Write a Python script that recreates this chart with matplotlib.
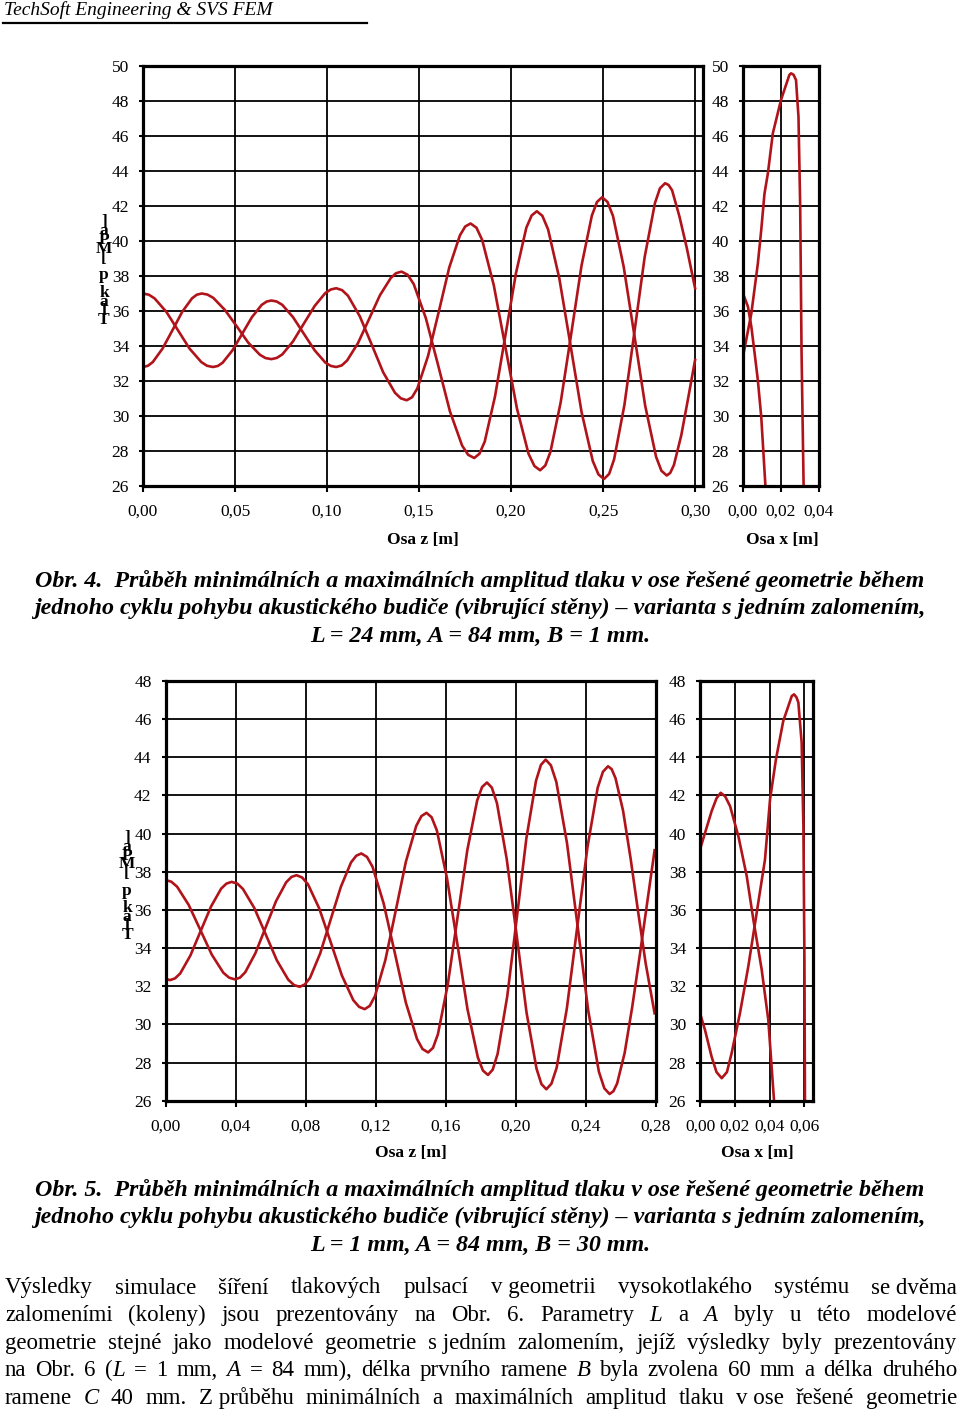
import matplotlib.pyplot as plt

plt.rcParams['font.family'] = ['Liberation Serif', 'DejaVu Serif']

RED = '#b0141a'

# ---- Obr. 4 : osa z ----
o4_z_a = [0, 0.0032, 0.0063, 0.0127, 0.019, 0.0253, 0.0317, 0.0348, 0.038, 0.0407, 0.0433, 0.0486, 0.0539,
          0.0592, 0.0645, 0.0672, 0.0698, 0.0727, 0.0757, 0.0815, 0.0874, 0.0933, 0.0991, 0.1021, 0.105,
          0.108, 0.1109, 0.1168, 0.1228, 0.1287, 0.1346, 0.1375, 0.1405, 0.1438, 0.1471, 0.1537, 0.1603,
          0.1668, 0.1734, 0.1767, 0.180, 0.1828, 0.1857, 0.1913, 0.197, 0.2027, 0.2083, 0.2112, 0.214,
          0.217, 0.2201, 0.2262, 0.2323, 0.2383, 0.2444, 0.2475, 0.2505, 0.2533, 0.256, 0.2616, 0.2671,
          0.2726, 0.2782, 0.2809, 0.2837, 0.2856, 0.2875, 0.2915, 0.2955, 0.300]
o4_p_a = [37.0, 36.93, 36.72, 35.95, 34.9, 33.85, 33.08, 32.87, 32.8, 32.86, 33.05, 33.75, 34.7,
          35.65, 36.35, 36.54, 36.6, 36.54, 36.35, 35.65, 34.7, 33.75, 33.05, 32.86, 32.8,
          32.89, 33.17, 34.16, 35.53, 36.89, 37.88, 38.16, 38.25, 38.07, 37.54, 35.59, 32.93,
          30.26, 28.31, 27.78, 27.6, 27.84, 28.54, 31.13, 34.65, 38.18, 40.76, 41.46, 41.7,
          41.44, 40.67, 37.88, 34.05, 30.23, 27.43, 26.66, 26.4, 26.69, 27.53, 30.63, 34.85,
          39.08, 42.17, 43.01, 43.3, 43.2, 42.9, 41.4, 39.6, 37.3]
o4_z_b = [0, 0.0027, 0.0053, 0.0106, 0.016, 0.0213, 0.0266, 0.0292, 0.0319, 0.035, 0.0382, 0.0445, 0.0509,
          0.0572, 0.0635, 0.0666, 0.0698, 0.0727, 0.0757, 0.0815, 0.0874, 0.0933, 0.0991, 0.1021, 0.105,
          0.1082, 0.1114, 0.1178, 0.1242, 0.1305, 0.1369, 0.1401, 0.1433, 0.1462, 0.1491, 0.1549, 0.1607,
          0.1664, 0.1722, 0.1751, 0.178, 0.1812, 0.1843, 0.1906, 0.1969, 0.2032, 0.2095, 0.2127, 0.2158,
          0.2186, 0.2214, 0.227, 0.2327, 0.2383, 0.2439, 0.2467, 0.2495, 0.2524, 0.2554, 0.2612, 0.2671,
          0.2729, 0.2788, 0.2817, 0.2846, 0.2865, 0.2885, 0.2925, 0.2962, 0.300]
o4_p_b = [32.8, 32.87, 33.08, 33.85, 34.9, 35.95, 36.72, 36.93, 37.0, 36.94, 36.75, 36.06, 35.13,
          34.19, 33.5, 33.31, 33.25, 33.32, 33.52, 34.26, 35.28, 36.29, 37.03, 37.23, 37.3,
          37.19, 36.87, 35.7, 34.1, 32.5, 31.33, 31.01, 30.9, 31.07, 31.58, 33.43, 35.95,
          38.48, 40.32, 40.83, 41.0, 40.76, 40.06, 37.48, 33.95, 30.43, 27.84, 27.14, 26.9,
          27.17, 27.95, 30.8, 34.7, 38.6, 41.45, 42.23, 42.5, 42.23, 41.43, 38.53, 34.55,
          30.58, 27.67, 26.87, 26.6, 26.75, 27.2, 28.9, 31.0, 33.2]
# ---- Obr. 4 : osa x ----
o4_x_1 = [0, 0.0044, 0.0078, 0.0096, 0.0113, 0.0131, 0.0157, 0.02, 0.0244, 0.0253, 0.0266, 0.0279, 0.0292,
          0.0301, 0.0308, 0.0319]
o4_px_1 = [33.4, 35.87, 38.7, 40.63, 42.7, 43.87, 46.15, 48.06, 49.49, 49.58, 49.5, 49.2, 47.1, 41.96, 33.77, 26.0]
o4_x_2 = [0, 0.0026, 0.0044, 0.0061, 0.0078, 0.0096, 0.0118]
o4_px_2 = [37.0, 36.25, 35.1, 33.6, 32.06, 29.96, 26.0]

# ---- Obr. 5 : osa z ----
o5_z_a = [0, 0.0033, 0.0066, 0.0132, 0.0198, 0.0264, 0.033, 0.0363, 0.0396, 0.0425, 0.0455, 0.0513, 0.0572,
          0.0631, 0.0689, 0.0719, 0.0748, 0.078, 0.0813, 0.0878, 0.0943, 0.1007, 0.1072, 0.1105, 0.1137,
          0.1166, 0.1196, 0.1255, 0.1314, 0.1372, 0.1431, 0.1461, 0.149, 0.1519, 0.1549, 0.1607, 0.1666,
          0.1724, 0.1783, 0.1812, 0.1841, 0.1868, 0.1896, 0.1951, 0.2006, 0.206, 0.2115, 0.2143, 0.217,
          0.22, 0.2231, 0.2292, 0.2353, 0.2413, 0.2474, 0.2505, 0.2535, 0.2557, 0.2578, 0.2621, 0.2664,
          0.2707, 0.275, 0.2792]
o5_p_a = [37.57, 37.48, 37.22, 36.27, 34.97, 33.66, 32.71, 32.45, 32.36, 32.45, 32.73, 33.73, 35.09,
          36.46, 37.45, 37.73, 37.82, 37.7, 37.35, 36.07, 34.31, 32.56, 31.27, 30.92, 30.8,
          30.97, 31.49, 33.37, 35.95, 38.52, 40.4, 40.92, 41.09, 40.86, 40.17, 37.66, 34.22,
          30.79, 28.27, 27.58, 27.35, 27.63, 28.46, 31.48, 35.62, 39.75, 42.77, 43.6, 43.88,
          43.58, 42.71, 39.5, 35.12, 30.73, 27.52, 26.65, 26.35, 26.5, 26.9, 28.5, 30.9,
          33.6, 36.4, 39.13]
o5_z_b = [0, 0.0025, 0.0054, 0.0084, 0.0142, 0.0201, 0.026, 0.0318, 0.0348, 0.0377, 0.041, 0.0442, 0.0507,
          0.0572, 0.0636, 0.0701, 0.0734, 0.0766, 0.0795, 0.0825, 0.0883, 0.0942, 0.1001, 0.1059, 0.1089,
          0.1118, 0.115, 0.1182, 0.1245, 0.1309, 0.1372, 0.1436, 0.1467, 0.1499, 0.1527, 0.1555, 0.1611,
          0.1667, 0.1723, 0.1779, 0.1807, 0.1835, 0.1863, 0.1892, 0.1948, 0.2005, 0.2061, 0.2118, 0.2146,
          0.2174, 0.2203, 0.2233, 0.2291, 0.235, 0.2409, 0.2467, 0.2497, 0.2526, 0.2547, 0.2569, 0.2612,
          0.2655, 0.2698, 0.2741, 0.2792]
o5_p_b = [32.4, 32.32, 32.41, 32.67, 33.61, 34.9, 36.18, 37.12, 37.38, 37.47, 37.38, 37.1, 36.1,
          34.72, 33.35, 32.34, 32.06, 31.97, 32.09, 32.44, 33.72, 35.47, 37.21, 38.49, 38.84,
          38.96, 38.78, 38.26, 36.35, 33.75, 31.14, 29.23, 28.71, 28.53, 28.77, 29.48, 32.07,
          35.61, 39.14, 41.73, 42.44, 42.68, 42.41, 41.6, 38.66, 34.64, 30.62, 27.68, 26.87,
          26.6, 26.89, 27.73, 30.83, 35.07, 39.3, 42.4, 43.24, 43.53, 43.38, 42.9, 41.2,
          38.7, 35.9, 33.2, 30.58]
# ---- Obr. 5 : osa x ----
o5_x_1 = [0, 0.0029, 0.0067, 0.0095, 0.0119, 0.0145, 0.0173, 0.0221, 0.0269, 0.0307, 0.0355, 0.0393, 0.0426]
o5_px_1 = [39.17, 40.04, 41.18, 41.85, 42.14, 41.95, 41.44, 39.86, 37.77, 35.49, 32.87, 30.24, 26.0]
o5_x_2 = [0, 0.0029, 0.0067, 0.0095, 0.0125, 0.0155, 0.0182, 0.023, 0.0278, 0.0326, 0.0374, 0.0403, 0.0437,
          0.0479, 0.0528, 0.0541, 0.0555, 0.0566, 0.0585, 0.0595, 0.0601, 0.0604]
o5_px_2 = [30.59, 29.7, 28.3, 27.5, 27.18, 27.5, 28.49, 30.59, 33.04, 35.84, 38.64, 41.79, 43.89,
           45.9, 47.21, 47.3, 47.15, 46.87, 44.77, 40.39, 33.39, 26.0]

# ticks
o4_zticks = [0, 0.05, 0.10, 0.15, 0.20, 0.25, 0.30]
o4_zlabels = ['0,00', '0,05', '0,10', '0,15', '0,20', '0,25', '0,30']
o4_xticks = [0, 0.02, 0.04]
o4_xlabels = ['0,00', '0,02', '0,04']
o4_pticks = list(range(26, 51, 2))
o5_zticks = [0, 0.04, 0.08, 0.12, 0.16, 0.20, 0.24, 0.28]
o5_zlabels = ['0,00', '0,04', '0,08', '0,12', '0,16', '0,20', '0,24', '0,28']
o5_xticks = [0, 0.02, 0.04, 0.06]
o5_xlabels = ['0,00', '0,02', '0,04', '0,06']
o5_pticks = list(range(26, 49, 2))

ylabel_text = 'Tlak p [MPa]'

caption4 = ['Obr. 4.  Průběh minimálních a maximálních amplitud tlaku v ose řešené geometrie během',
            'jednoho cyklu pohybu akustického budiče (vibrující stěny) – varianta s jedním zalomením,',
            'L = 24 mm, A = 84 mm, B = 1 mm.']
caption5 = ['Obr. 5.  Průběh minimálních a maximálních amplitud tlaku v ose řešené geometrie během',
            'jednoho cyklu pohybu akustického budiče (vibrující stěny) – varianta s jedním zalomením,',
            'L = 1 mm, A = 84 mm, B = 30 mm.']
# '*' toggles italics, '~' is a space that stays inside a word
body = ['Výsledky simulace šíření tlakových pulsací v~geometrii vysokotlakého systému se~dvěma',
        'zalomeními (koleny) jsou prezentovány na Obr. 6. Parametry *L* a *A* byly u této modelové',
        'geometrie stejné jako modelové geometrie s~jedním zalomením, jejíž výsledky byly prezentovány',
        'na Obr. 6 (*L* = 1 mm, *A* = 84 mm), délka prvního ramene *B* byla zvolena 60 mm a délka druhého',
        'ramene *C* 40 mm. Z~průběhu minimálních a maximálních amplitud tlaku v~ose řešené geometrie']

W, H = 960.0, 1412.0
fig = plt.figure(figsize=(W / 100, H / 100), dpi=100)


def box(l, t, r, b):
    return [l / W, 1 - b / H, (r - l) / W, (b - t) / H]


def make_axes(rect, xlim, xticks, xlabels, pticks):
    ax = fig.add_axes(rect)
    ax.set_xlim(*xlim)
    ax.set_ylim(pticks[0], pticks[-1])
    ax.set_xticks(xticks)
    ax.set_xticklabels(xlabels)
    ax.set_yticks(pticks)
    ax.set_yticklabels([str(p) for p in pticks])
    ax.grid(True, color='black', lw=1.3)
    for s in ax.spines.values():
        s.set_linewidth(2.3)
    ax.tick_params(axis='y', direction='out', length=3, width=1.5, labelsize=12.5, pad=7)
    ax.tick_params(axis='x', direction='out', length=4, width=1.5, labelsize=12.5, pad=9)
    return ax


def stacked_label(x, ytop, step):
    for i, ch in enumerate(reversed(ylabel_text)):
        if ch != ' ':
            fig.text(x / W, 1 - (ytop + i * step) / H, ch, ha='center', va='center',
                     fontsize=12.5, fontweight='bold')


def axis_title(x, y, s):
    fig.text(x / W, 1 - y / H, s, ha='center', va='center', fontsize=12.5, fontweight='bold')


# header
fig.text(4 / W, 1 - 10 / H, 'TechSoft Engineering & SVS FEM', ha='left', va='center',
         fontsize=14, style='italic')
fig.add_artist(plt.Line2D([3 / W, 367 / W], [1 - 23 / H, 1 - 23 / H], color='black', lw=1.6))

# Obr. 4
ax = make_axes(box(143, 66, 703, 486), (0, 0.3043), o4_zticks, o4_zlabels, o4_pticks)
ax.plot(o4_z_a, o4_p_a, color=RED, lw=1.9)
ax.plot(o4_z_b, o4_p_b, color=RED, lw=1.9)
ax = make_axes(box(743, 66, 819, 486), (0, 0.04), o4_xticks, o4_xlabels, o4_pticks)
ax.plot(o4_x_1, o4_px_1, color=RED, lw=1.9)
ax.plot(o4_x_2, o4_px_2, color=RED, lw=1.9)
stacked_label(104, 222, 8.9)
axis_title(423, 540, 'Osa z [m]')
axis_title(782, 540, 'Osa x [m]')

# Obr. 5
ax = make_axes(box(165.5, 681, 656, 1100.7), (0, 0.28), o5_zticks, o5_zlabels, o5_pticks)
ax.plot(o5_z_a, o5_p_a, color=RED, lw=1.9)
ax.plot(o5_z_b, o5_p_b, color=RED, lw=1.9)
ax = make_axes(box(700, 681, 813.3, 1100.7), (0, 0.0652), o5_xticks, o5_xlabels, o5_pticks)
ax.plot(o5_x_1, o5_px_1, color=RED, lw=1.9)
ax.plot(o5_x_2, o5_px_2, color=RED, lw=1.9)
stacked_label(127, 838, 8.8)
axis_title(411, 1153, 'Osa z [m]')
axis_title(757, 1153, 'Osa x [m]')

# captions
for k, line in enumerate(caption4):
    fig.text(0.5, 1 - (581 + k * 27.7) / H, line, ha='center', va='center', fontsize=17.3,
             style='italic', fontweight='bold')
for k, line in enumerate(caption5):
    fig.text(0.5, 1 - (1190 + k * 27.7) / H, line, ha='center', va='center', fontsize=17.3,
             style='italic', fontweight='bold')

# justified paragraph
fig.canvas.draw()
rend = fig.canvas.get_renderer()
left, right = 5, 957
for k, line in enumerate(body):
    y = 1 - (1288 + k * 27.6) / H
    words = []
    for word in line.split(' '):
        parts = []
        for j, seg in enumerate(word.replace('~', ' ').split('*')):
            if seg:
                t = fig.text(0, y, seg, fontsize=16.5, va='center',
                             style='italic' if j % 2 else 'normal')
                parts.append((t, t.get_window_extent(rend).width))
        words.append(parts)
    total = sum(w for p in words for _, w in p)
    gap = (right - left - total) / (len(words) - 1)
    x = left
    for p in words:
        for t, w in p:
            t.set_x(x / W)
            x += w
        x += gap

fig.savefig('out.png', dpi=100)
